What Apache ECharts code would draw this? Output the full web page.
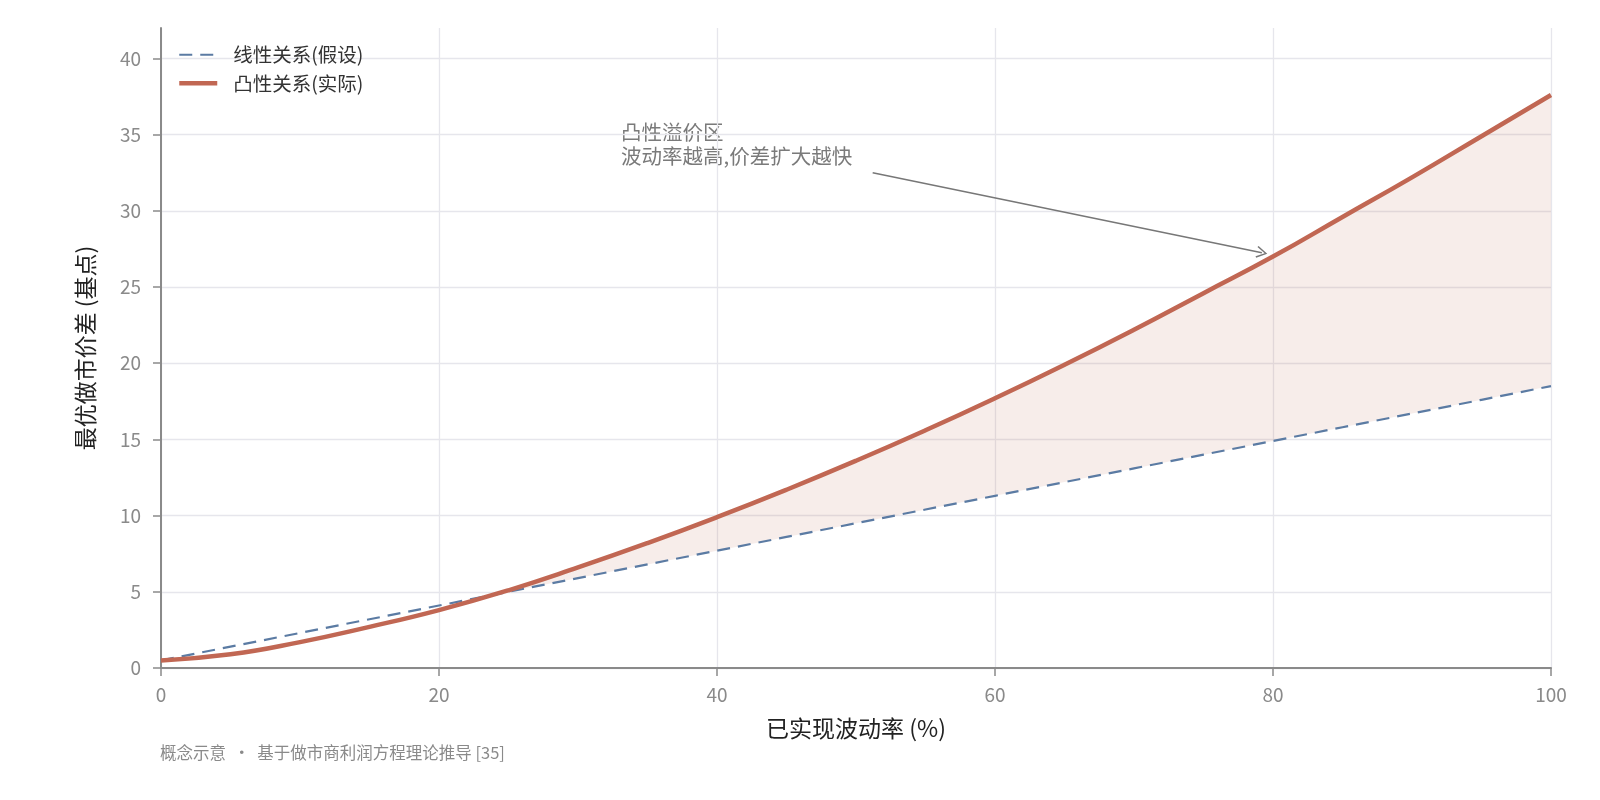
<!DOCTYPE html>
<html>
<head>
<meta charset="utf-8">
<script src="https://cdn.jsdelivr.net/npm/echarts@6/dist/echarts.min.js"></script>
<style>
html,body{margin:0;padding:0;background:#fff;}
#chart{width:1600px;height:800px;}
</style>
</head>
<body>
<div id="chart"></div>
<script>
// ---- data ----
const volatility = [0, 5, 10, 15, 20, 25, 30, 35, 40, 45, 50, 55, 60, 65, 70, 75, 80, 85, 90, 95, 100];
const linearSpread = [0.5, 1.4, 2.3, 3.2, 4.1, 5.0, 5.9, 6.8, 7.7, 8.6, 9.5, 10.4, 11.3, 12.2, 13.1, 14.0, 14.9, 15.8, 16.7, 17.6, 18.5];
const convexSpread = [0.5, 0.9, 1.7, 2.7, 3.8, 5.1, 6.6, 8.2, 9.9, 11.7, 13.6, 15.6, 17.7, 19.9, 22.2, 24.6, 27.0, 29.6, 32.2, 34.9, 37.6];
const xTicks = [0, 20, 40, 60, 80, 100];
const yTicks = [0, 5, 10, 15, 20, 25, 30, 35, 40];
const seriesNames = ['线性关系(假设)', '凸性关系(实际)'];
const xAxisName = '已实现波动率 (%)';
const yAxisName = '最优做市价差 (基点)';
const annotationText = '凸性溢价区\n波动率越高,价差扩大越快';
const footnote = '概念示意  ·  基于做市商利润方程理论推导 [35]';
const arrowFrom = [51.2, 32.5];
const arrowTo = [79.2, 27.25];

// ---- derived series ----
const linearPts = volatility.map((x, i) => [x, linearSpread[i]]);
const convexPts = volatility.map((x, i) => [x, convexSpread[i]]);

const FONT = '"Noto Sans CJK SC", "Noto Sans", sans-serif';
const AXIS_COLOR = '#8a8a8a';
const GRID_COLOR = '#e6e6ec';
const RED = '#C16753';
const BLUE = '#5B7BA3';

// fill between the two curves where convex >= linear
function renderBand(params, api) {
  const top = [], bottom = [];
  for (let i = 0; i < volatility.length; i++) {
    const d = convexSpread[i] - linearSpread[i];
    if (d >= 0) {
      if (i > 0) {
        const d0 = convexSpread[i - 1] - linearSpread[i - 1];
        if (d0 < 0) {
          const t = d0 / (d0 - d);
          const xi = volatility[i - 1] + t * (volatility[i] - volatility[i - 1]);
          const yi = linearSpread[i - 1] + t * (linearSpread[i] - linearSpread[i - 1]);
          top.push(api.coord([xi, yi]));
          bottom.push(api.coord([xi, yi]));
        }
      }
      top.push(api.coord([volatility[i], convexSpread[i]]));
      bottom.push(api.coord([volatility[i], linearSpread[i]]));
    }
  }
  return {
    type: 'polygon',
    shape: {points: top.concat(bottom.reverse())},
    style: {fill: 'rgba(193,103,83,0.12)'},
    silent: true
  };
}

const chart = echarts.init(document.getElementById('chart'), null, {renderer: 'canvas'});
chart.setOption({
  animation: false,
  backgroundColor: '#ffffff',
  textStyle: {fontFamily: FONT},
  grid: {left: 161, right: 49, top: 28, bottom: 132, containLabel: false},
  legend: {
    data: [
      {name: seriesNames[0], lineStyle: {color: BLUE, width: 2.2, type: [13, 8]}},
      {name: seriesNames[1], lineStyle: {color: RED, width: 4.5, type: 'solid'}}
    ],
    orient: 'vertical',
    left: 172,
    top: 40,
    itemWidth: 38,
    itemHeight: 14,
    itemGap: 9,
    itemStyle: {opacity: 0},
    textStyle: {fontSize: 19.5, color: '#333', fontFamily: FONT, padding: [0, 0, 0, 11]},
    selectedMode: false
  },
  xAxis: {
    type: 'value',
    min: 0, max: 100, interval: 20,
    name: xAxisName,
    nameLocation: 'middle',
    nameGap: 49,
    nameTextStyle: {fontSize: 23, color: '#222', fontFamily: FONT},
    axisLine: {show: true, onZero: false, lineStyle: {color: AXIS_COLOR, width: 2}},
    axisTick: {show: true, inside: false, length: 8, lineStyle: {color: AXIS_COLOR, width: 1.5}, customValues: xTicks},
    axisLabel: {fontSize: 19, color: AXIS_COLOR, margin: 17, fontFamily: FONT, customValues: xTicks},
    splitLine: {show: true, lineStyle: {color: GRID_COLOR, width: 1.3}}
  },
  yAxis: {
    type: 'value',
    min: 0, max: 42, interval: 5,
    name: yAxisName,
    nameLocation: 'middle',
    nameGap: 64,
    nameRotate: 90,
    nameTextStyle: {fontSize: 23, color: '#222', fontFamily: FONT},
    axisLine: {show: true, onZero: false, lineStyle: {color: AXIS_COLOR, width: 2}},
    axisTick: {show: true, inside: false, length: 8, lineStyle: {color: AXIS_COLOR, width: 1.5}, customValues: yTicks},
    axisLabel: {fontSize: 19, color: AXIS_COLOR, margin: 20, fontFamily: FONT, customValues: yTicks},
    splitLine: {show: true, lineStyle: {color: GRID_COLOR, width: 1.3}}
  },
  series: [
    {
      name: 'band',
      type: 'custom',
      coordinateSystem: 'cartesian2d',
      renderItem: renderBand,
      data: [[0, 0]],
      silent: true,
      z: 1
    },
    {
      name: seriesNames[0],
      type: 'line',
      data: linearPts,
      showSymbol: false,
      symbol: 'none',
      color: BLUE,
      lineStyle: {color: BLUE, width: 2.2, type: [13, 8]},
      z: 3
    },
    {
      name: seriesNames[1],
      type: 'line',
      data: convexPts,
      smooth: true,
      showSymbol: false,
      symbol: 'none',
      color: RED,
      lineStyle: {color: RED, width: 4.5},
      z: 4,
      markLine: {
        silent: true,
        symbol: ['none', 'path://M10,0 L20,17 L18,18.5 L10,4.5 L2,18.5 L0,17 Z'],
        symbolSize: [12, 11],
        label: {show: false},
        lineStyle: {color: '#777', width: 1.5, type: 'solid'},
        emphasis: {disabled: true},
        data: [[{coord: arrowFrom}, {coord: arrowTo}]]
      }
    }
  ],
  graphic: [
    {
      type: 'text',
      left: 621,
      top: 120,
      style: {text: annotationText, fontSize: 20.5, lineHeight: 24, fill: '#7a7a7a', fontFamily: FONT}
    },
    {
      type: 'text',
      left: 160,
      top: 743,
      style: {text: footnote, fontSize: 16.5, lineHeight: 20, fill: '#8a8a8a', fontFamily: FONT}
    }
  ]
});
</script>
</body>
</html>
